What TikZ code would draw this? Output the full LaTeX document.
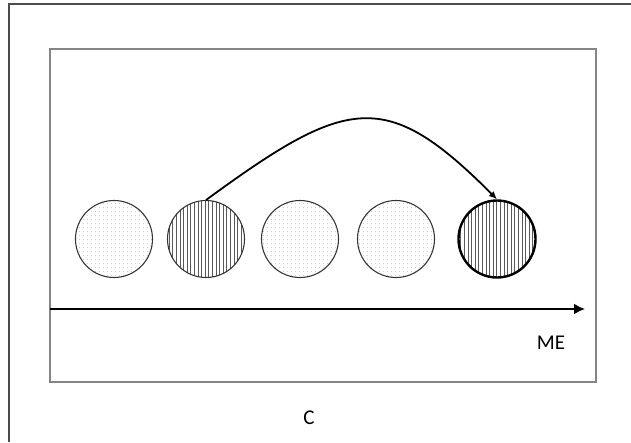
\documentclass[tikz,border=0pt]{standalone}
\usepackage{fontspec}
\setmainfont{Carlito}
\usepackage{tikz}
\usetikzlibrary{arrows.meta,patterns.meta,positioning}
\definecolor{frame}{HTML}{858585}
\definecolor{ink}{HTML}{111111}

\begin{document}
\begin{tikzpicture}[
  x=1pt, y=-1pt,
  ball/.style={circle, draw=ink!85, line width=1.1pt, minimum size=77pt, inner sep=0pt},
  dotball/.style={ball, pattern={Dots[distance=4pt, radius=0.45pt]}, pattern color=black!45},
  lineball/.style={ball, pattern={Lines[angle=90, distance=3.6pt, line width=0.9pt]}, pattern color=black!65},
  boxline/.style={draw=frame, line width=1.5pt},
  arr/.style={-{Latex[length=11pt, width=11pt]}, draw=black, line width=2pt},
  lbl/.style={font=\fontsize{21}{24}\selectfont, inner sep=0pt}
]
\useasboundingbox (0,0) rectangle (631,442);
% outer frame (top and left only)
\draw[boxline, draw=black!70] (631,4) -- (9,4) -- (9,442);
% inner box
\draw[boxline] (50,49) rectangle (596,382);
% balls
\node[dotball] (b1) at (114,239) {};
\node[lineball] (b2) at (206,239) {};
\node[dotball] (b3) at (300,239) {};
\node[dotball] (b4) at (396,239) {};
\node[lineball, draw=black, line width=2.4pt] (b5) at (497,239) {};
% jump
\draw[arr, line width=1.8pt, -{Latex[length=8pt, width=7pt]}] (b2.north) .. controls (348,96) and (386,88) .. (b5.north);
% axis
\coordinate (axL) at (50,309);
\coordinate (axR) at (585,309);
\draw[arr] (axL) -- (axR);
\node[lbl] (me) at (551,343) {ME};
\node[lbl] (c) at (309,418) {C};
\end{tikzpicture}
\end{document}
